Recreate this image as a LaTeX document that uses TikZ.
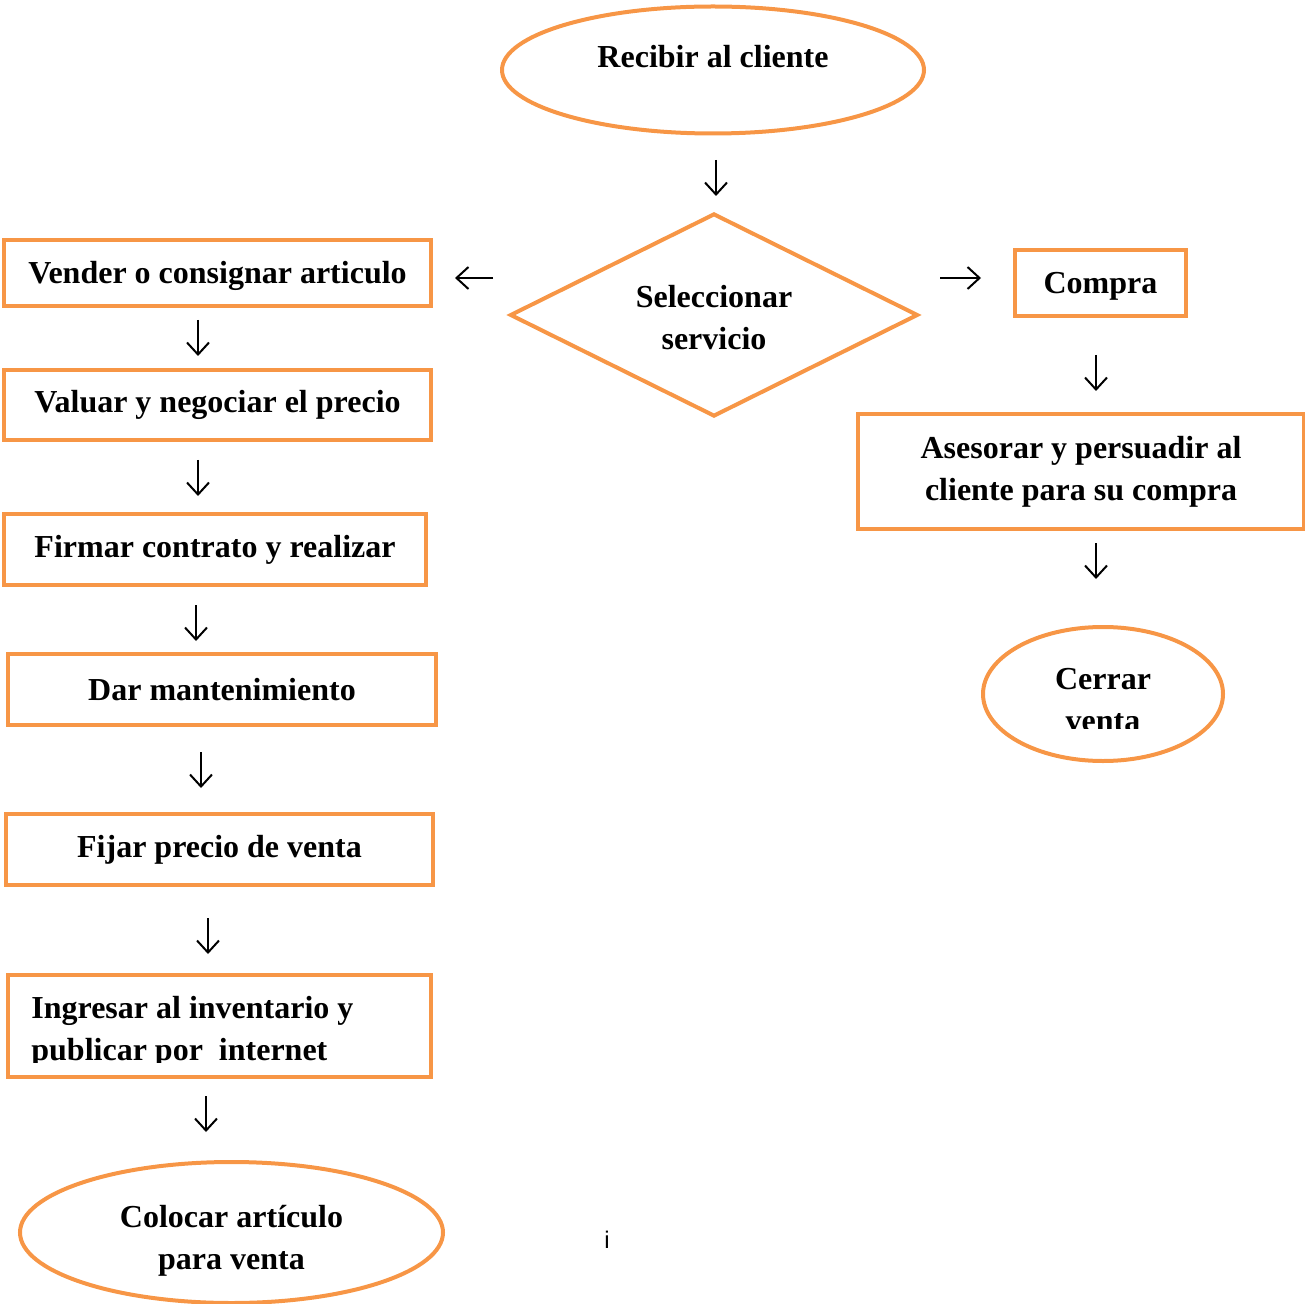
\documentclass[tikz,border=0pt]{standalone}
\usepackage{fontspec}
\setmainfont{Liberation Serif}
\newfontfamily\plainsans{Liberation Sans}
\usetikzlibrary{shapes.geometric,arrows.meta}
\definecolor{accent}{RGB}{247,150,70}
% lower the ink of a line while keeping its box
\newcommand{\lowered}[1]{\raisebox{-1.5pt}[\height][\depth]{#1}}

\begin{document}
\begin{tikzpicture}[x=0.5pt,y=-0.5pt,
  shapeline/.style={draw=accent, line width=2pt},
  txt/.style={font=\bfseries\fontsize{16}{21}\selectfont, align=center, inner sep=0pt},
  stepbox/.style={shapeline, rectangle, txt},
  terminal/.style={shapeline, ellipse, inner sep=0pt},
  decision/.style={shapeline, diamond, aspect=2, txt},
  flow/.style={-{Straight Barb[length=6pt,width=11pt]}, line width=1pt}
]
\useasboundingbox (0,0) rectangle (1305,1304);

% start
\node[terminal, minimum width=211pt, minimum height=63.5pt,
      label={[txt, yshift=6.5pt]center:Recibir al cliente}] (recibir) at (713,70) {};

% decision
\node[decision, minimum width=204pt, minimum height=101.5pt] (seleccionar) at (714,315)
  {\lowered{Seleccionar}\\\lowered{servicio}};

% left branch
\node[stepbox, minimum width=213.5pt, minimum height=33pt]   (vender)  at (217.5,273)  {\lowered{Vender o consignar articulo}};
\node[stepbox, minimum width=213.5pt, minimum height=35pt]   (valuar)  at (217.5,405)  {Valuar y negociar el precio};
\node[stepbox, minimum width=211pt,   minimum height=35.5pt] (firmar)  at (215,549.5)  {Firmar contrato y realizar};
\node[stepbox, minimum width=214pt,   minimum height=35.5pt] (dar)     at (222,689.5)  {Dar mantenimiento};
\node[stepbox, minimum width=213.5pt, minimum height=35.5pt] (fijar)   at (219.5,849.5){Fijar precio de venta};
\node[stepbox, minimum width=211.5pt, minimum height=51pt]   (ingresar) at (219.5,1026) {};
\begin{scope}
  \clip (8,975) rectangle (431,1062);
  \node[txt, align=left, anchor=north west] (ingresartxt) at (31,996)
    {Ingresar al inventario y\\publicar por\ \ internet};
\end{scope}
\node[terminal, minimum width=211.5pt, minimum height=70.5pt,
      label={[txt, yshift=-4pt]center:Colocar artículo\\para venta}] (colocar) at (231.5,1232.5) {};

% right branch
\node[stepbox, minimum width=85.5pt, minimum height=33pt]  (compra)   at (1100.5,283)  {\lowered{Compra}};
\node[stepbox, minimum width=223pt,  minimum height=57.5pt] (asesorar) at (1081,471.5) {Asesorar y persuadir al\\cliente para su compra};
\node[terminal, minimum width=120pt, minimum height=67pt] (cerrar) at (1103,694) {};
\begin{scope}
  \clip (990,640) rectangle (1215,728);
  \node[txt, anchor=north] (cerrartxt) at (1103,668) {Cerrar\\venta};
\end{scope}

\node[font=\plainsans\fontsize{12}{14}\selectfont, inner sep=0pt] (mark) at (607,1240) {i};

% flow arrows
\coordinate (a1s) at (716,160);  \coordinate (a1e) at (716,196);
\coordinate (a2s) at (493,278);  \coordinate (a2e) at (455,278);
\coordinate (a3s) at (940,278);  \coordinate (a3e) at (981,278);
\coordinate (a4s) at (198,320);  \coordinate (a4e) at (198,356);
\coordinate (a5s) at (198,460);  \coordinate (a5e) at (198,496);
\coordinate (a6s) at (196,605);  \coordinate (a6e) at (196,641);
\coordinate (a7s) at (201,752);  \coordinate (a7e) at (201,788);
\coordinate (a8s) at (208,918);  \coordinate (a8e) at (208,954);
\coordinate (a9s) at (206,1096); \coordinate (a9e) at (206,1132);
\coordinate (b1s) at (1096,355); \coordinate (b1e) at (1096,391);
\coordinate (b2s) at (1096,543); \coordinate (b2e) at (1096,579);
\foreach \p in {a1,a2,a3,a4,a5,a6,a7,a8,a9,b1,b2}
  \draw[flow] (\p s) -- (\p e);
\end{tikzpicture}
\end{document}
